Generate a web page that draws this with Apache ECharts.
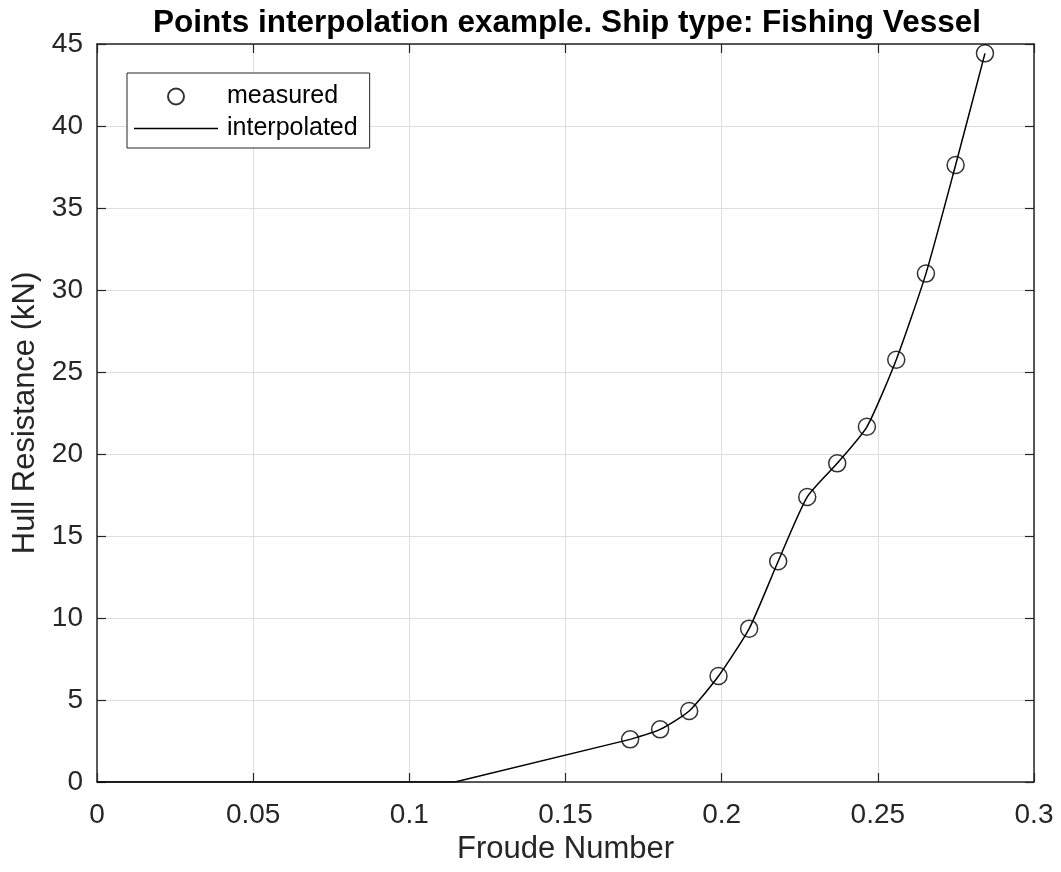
<!DOCTYPE html>
<html>
<head>
<meta charset="utf-8">
<script src="https://cdn.jsdelivr.net/npm/echarts@6/dist/echarts.min.js"></script>
<style>html,body{margin:0;padding:0;background:#fff}#c{width:1061px;height:872px}</style>
</head>
<body>
<div id="c"></div>
<script>
// Measured data
const froude = [0.1707, 0.1803, 0.1896, 0.1990, 0.2088, 0.2181, 0.2274, 0.2370, 0.2465, 0.2559, 0.2654, 0.2749, 0.2843];
const resistance = [2.60, 3.21, 4.33, 6.46, 9.35, 13.46, 17.38, 19.43, 21.66, 25.75, 31.00, 37.62, 44.43];
// Interpolated curve: zero region then rising to first measured point
const zeroX = [0, 0.1146];
const zeroY = [0, 0];
const xTicks = { min: 0, max: 0.3, interval: 0.05 };
const yTicks = { min: 0, max: 45, interval: 5 };

const measuredPts = froude.map((x, i) => [x, resistance[i]]);
const leadPts = zeroX.map((x, i) => [x, zeroY[i]]).concat([[froude[0], resistance[0]]]);

const FONT = 'Liberation Sans, Arial, Helvetica, sans-serif';
const TXT = '#262626';
const AX = '#262626';
const GRID = '#dedede';

const chart = echarts.init(document.getElementById('c'));
chart.setOption({
  animation: false,
  backgroundColor: '#fff',
  title: {
    text: 'Points interpolation example. Ship type: Fishing Vessel',
    left: 562, top: 2, textAlign: 'center',
    textStyle: { fontFamily: FONT, fontSize: 31.5, fontWeight: 'bold', color: '#000' }
  },
  legend: {
    orient: 'vertical', left: 127, top: 73,
    padding: [11, 12, 7, 7],
    itemWidth: 84, itemHeight: 16, itemGap: 7,
    backgroundColor: '#fff',
    borderColor: AX, borderWidth: 1, borderRadius: 0,
    textStyle: { fontFamily: FONT, fontSize: 25, color: '#000', padding: [0, 0, 0, 4] },
    data: [
      { name: 'measured' },
      { name: 'interpolated', icon: 'path://M0,0h84v1.4h-84z', itemStyle: { color: '#000' } }
    ]
  },
  grid: { left: 97, right: 27, top: 44, bottom: 90, containLabel: false },
  xAxis: [{
    type: 'value', min: xTicks.min, max: xTicks.max, interval: xTicks.interval,
    name: 'Froude Number', nameLocation: 'middle', nameGap: 45,
    nameTextStyle: { fontFamily: FONT, fontSize: 31, color: TXT },
    axisLine: { show: true, onZero: false, lineStyle: { color: AX, width: 1.5 } },
    axisTick: { show: true, inside: true, length: 9, lineStyle: { color: AX, width: 1.2 } },
    axisLabel: { fontFamily: FONT, fontSize: 28, color: TXT, margin: 19 },
    splitLine: { show: true, lineStyle: { color: GRID, width: 1 } }
  }, {
    type: 'value', position: 'top', min: xTicks.min, max: xTicks.max, interval: xTicks.interval,
    axisLine: { show: true, onZero: false, lineStyle: { color: AX, width: 1.5 } },
    axisTick: { show: true, inside: true, length: 9, lineStyle: { color: AX, width: 1.2 } },
    axisLabel: { show: false }, splitLine: { show: false }
  }],
  yAxis: [{
    type: 'value', min: yTicks.min, max: yTicks.max, interval: yTicks.interval,
    name: 'Hull Resistance (kN)', nameLocation: 'middle', nameGap: 43,
    nameTextStyle: { fontFamily: FONT, fontSize: 31, color: TXT },
    axisLine: { show: true, onZero: false, lineStyle: { color: AX, width: 1.5 } },
    axisTick: { show: true, inside: true, length: 9, lineStyle: { color: AX, width: 1.2 } },
    axisLabel: { fontFamily: FONT, fontSize: 28, color: TXT, margin: 14 },
    splitLine: { show: true, lineStyle: { color: GRID, width: 1 } }
  }, {
    type: 'value', position: 'right', min: yTicks.min, max: yTicks.max, interval: yTicks.interval,
    axisLine: { show: true, onZero: false, lineStyle: { color: AX, width: 1.5 } },
    axisTick: { show: true, inside: true, length: 9, lineStyle: { color: AX, width: 1.2 } },
    axisLabel: { show: false }, splitLine: { show: false }
  }],
  series: [{
    name: 'interpolated', type: 'line', data: leadPts,
    symbol: 'none', smooth: false,
    lineStyle: { color: '#000', width: 1.5 }, itemStyle: { color: '#000' }, z: 3
  }, {
    name: 'interpolated', type: 'line', data: measuredPts,
    symbol: 'none', smooth: 0.2,
    lineStyle: { color: '#000', width: 1.5 }, itemStyle: { color: '#000' }, z: 3
  }, {
    name: 'measured', type: 'scatter', data: measuredPts,
    symbol: 'circle', symbolSize: 17,
    itemStyle: { color: 'rgba(0,0,0,0)', borderColor: '#000', borderWidth: 1.5 }, z: 4
  }]
});
</script>
</body>
</html>
